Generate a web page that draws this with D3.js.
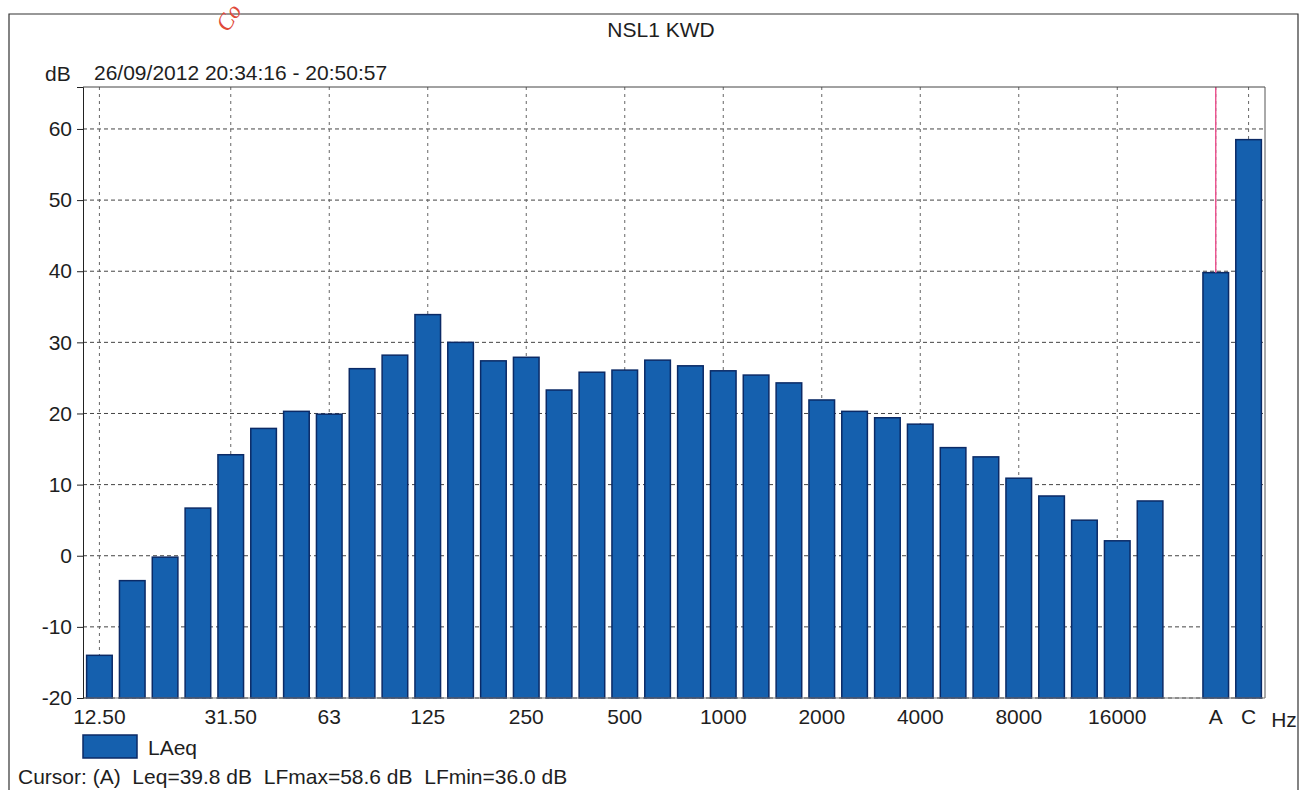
<!DOCTYPE html>
<html>
<head>
<meta charset="utf-8">
<script src="https://cdn.jsdelivr.net/npm/d3@7"></script>
<style>
  html, body { margin: 0; padding: 0; background: #fff; }
  svg { display: block; font-family: "Liberation Sans", Arial, sans-serif; }
  text { white-space: pre; }
</style>
</head>
<body>
<svg id="chart" width="1302" height="790"></svg>
<script>
// 1/3-octave band levels (LAeq) followed by the A and C weighted totals
const bands = ["12.50","16","20","25","31.50","40","50","63","80","100","125","160","200","250","315","400","500","630","800","1000","1250","1600","2000","2500","3150","4000","5000","6300","8000","10000","12500","16000","20000"];
const bandValues = [-14.0,-3.5,-0.2,6.7,14.2,17.9,20.3,19.9,26.3,28.2,33.9,30.0,27.4,27.9,23.3,25.8,26.1,27.5,26.7,26.0,25.4,24.3,21.9,20.3,19.4,18.5,15.2,13.9,10.9,8.4,5.0,2.1,7.7];
const totals = ["A","C"];
const totalValues = [39.8, 58.5];
const labelledBands = ["12.50","31.50","63","125","250","500","1000","2000","4000","8000","16000"];
const yTicks = [-20,-10,0,10,20,30,40,50,60];
const title = "NSL1 KWD";
const period = "26/09/2012 20:34:16 - 20:50:57";
const cursorText = "Cursor: (A)  Leq=39.8 dB  LFmax=58.6 dB  LFmin=36.0 dB";

const FS = 21;
const INK = "#1e1e1e";
const svg = d3.select("#chart");
const plot = { left: 83, right: 1265, top: 87, bottom: 698 };

// one empty slot separates the bands from the weighted totals
const slots = [...bands, "_gap", ...totals];
const x = d3.scaleBand().domain(slots).range([plot.left, plot.right]).paddingInner(0.22).paddingOuter(0.11);
const y = d3.scaleLinear().domain([-20, 65.9]).range([plot.bottom, plot.top]);

const bars = bands.map((b, i) => ({ key: b, v: bandValues[i] }))
  .concat(totals.map((t, i) => ({ key: t, v: totalValues[i] })));

// outer frame
svg.append("path").attr("d", "M9,790 V14 H1298 V790")
  .attr("fill", "none").attr("stroke", "#333").attr("stroke-width", 1.2);

// stamp fragment
svg.append("text").attr("transform", "translate(228,33) rotate(-58)")
  .attr("fill", "#e04a3a").attr("font-size", 23).attr("font-family", "Liberation Serif, serif")
  .attr("font-style", "italic").text("Co");

const cx = k => x(k) + x.bandwidth() / 2;

// horizontal grid
svg.append("g").selectAll("line").data(yTicks).join("line")
  .attr("x1", plot.left).attr("x2", plot.right)
  .attr("y1", d => y(d)).attr("y2", d => y(d))
  .attr("stroke", "#444").attr("stroke-width", 1).attr("stroke-dasharray", "4,3");

// vertical grid
const vGrid = [...labelledBands, ...totals];
svg.append("g").selectAll("line").data(vGrid).join("line")
  .attr("x1", d => cx(d)).attr("x2", d => cx(d))
  .attr("y1", plot.top).attr("y2", plot.bottom)
  .attr("stroke", "#666").attr("stroke-width", 1).attr("stroke-dasharray", "3,4");

// bars
svg.append("g").selectAll("rect").data(bars).join("rect")
  .attr("x", d => x(d.key)).attr("width", x.bandwidth())
  .attr("y", d => y(d.v)).attr("height", d => y(-20) - y(d.v))
  .attr("fill", "#1560ae").attr("stroke", "#0b2a66").attr("stroke-width", 1.5);

// cursor line at A
svg.append("line").attr("x1", cx("A")).attr("x2", cx("A"))
  .attr("y1", plot.top).attr("y2", y(totalValues[0]))
  .attr("stroke", "#ea4f8c").attr("stroke-width", 1.4);

// plot frame
svg.append("line").attr("x1", plot.left).attr("x2", plot.right).attr("y1", plot.top).attr("y2", plot.top)
  .attr("stroke", "#444").attr("stroke-width", 1);
svg.append("line").attr("x1", plot.right).attr("x2", plot.right).attr("y1", plot.top).attr("y2", plot.bottom)
  .attr("stroke", "#555").attr("stroke-width", 1);
svg.append("line").attr("x1", plot.left).attr("x2", plot.right).attr("y1", plot.bottom).attr("y2", plot.bottom)
  .attr("stroke", "#777").attr("stroke-width", 1);

// y axis
const yAxis = svg.append("g").attr("transform", `translate(${plot.left},0)`)
  .call(d3.axisLeft(y).tickValues(yTicks).tickFormat(d => String(d)).tickSize(6).tickPadding(5));
yAxis.select(".domain").attr("stroke", "#222");
yAxis.selectAll(".tick line").attr("stroke", "#222");
yAxis.selectAll("text").attr("font-size", FS).attr("fill", INK)
  .attr("font-family", "Liberation Sans, Arial, sans-serif");

// x axis labels
const xAxis = svg.append("g").attr("transform", `translate(0,${plot.bottom})`)
  .call(d3.axisBottom(x).tickValues(vGrid).tickSize(0).tickPadding(11));
xAxis.select(".domain").remove();
xAxis.selectAll("text").attr("font-size", FS).attr("fill", INK)
  .attr("font-family", "Liberation Sans, Arial, sans-serif");
svg.append("text").attr("x", 1284).attr("y", 727).attr("text-anchor", "middle")
  .attr("font-size", FS).attr("fill", INK).text("Hz");

// titles
svg.append("text").attr("x", 661).attr("y", 37).attr("text-anchor", "middle")
  .attr("font-size", FS).attr("fill", INK).text(title);
svg.append("text").attr("x", 45).attr("y", 81).attr("font-size", FS).attr("fill", INK).text("dB");
svg.append("text").attr("x", 94).attr("y", 80).attr("font-size", FS).attr("fill", INK).text(period);

// legend
svg.append("rect").attr("x", 83).attr("y", 735).attr("width", 54).attr("height", 23)
  .attr("fill", "#1560ae").attr("stroke", "#0b2a66").attr("stroke-width", 1.5);
svg.append("text").attr("x", 148).attr("y", 755).attr("font-size", FS).attr("fill", INK).text("LAeq");

svg.append("text").attr("x", 18).attr("y", 784).attr("font-size", FS).attr("fill", INK).text(cursorText);
</script>
</body>
</html>
